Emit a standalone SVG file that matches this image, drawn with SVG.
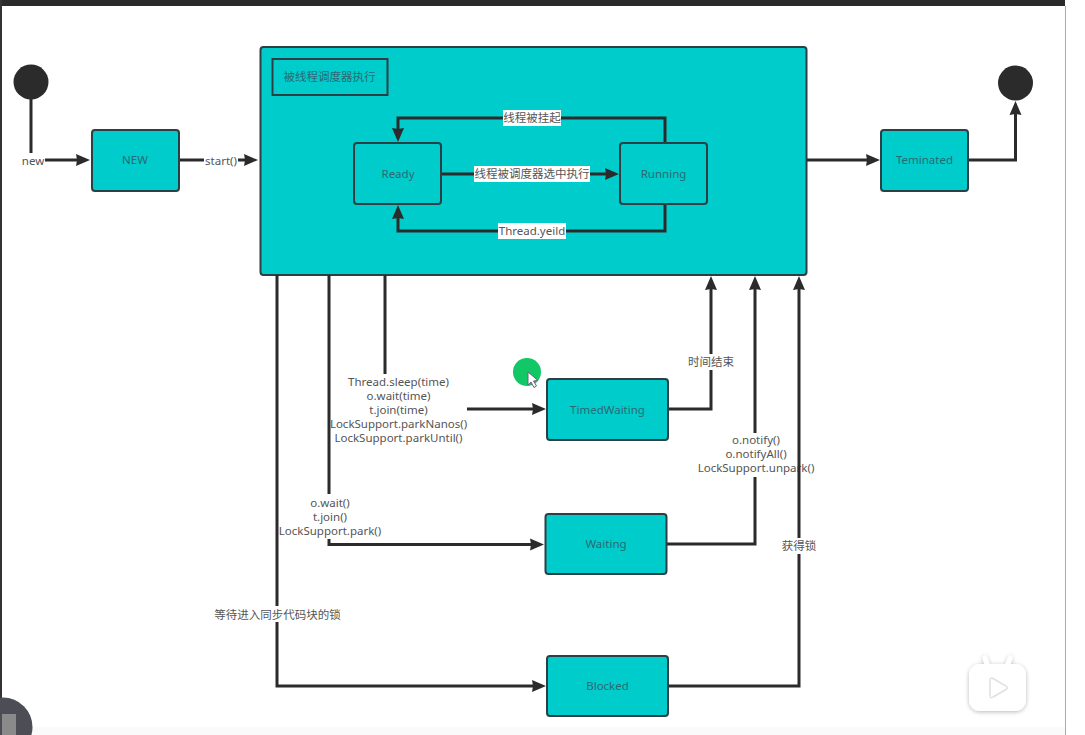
<svg xmlns="http://www.w3.org/2000/svg" width="1085" height="735" viewBox="0 0 1085 735">
<style>
.n{fill:#00cccc;stroke:#2b3f45;stroke-width:2}
.c{fill:none;stroke:#2b2b2b;stroke-width:3;marker-end:url(#a)}
text{font-family:"Noto Sans","Noto Sans CJK SC",sans-serif;font-size:11.500px;text-anchor:middle}
.t{fill:#2b6a72}
.l{fill:#555}
.bg{fill:#fff}
</style>
<defs>
<marker id="a" markerUnits="userSpaceOnUse" markerWidth="15" markerHeight="13" refX="6" refY="6.500" orient="auto"><path d="M0 .5L14 6.500L0 12.500L1 6.500z" fill="#2b2b2b"/></marker>
<filter id="s" x="-30%" y="-30%" width="160%" height="160%"><feDropShadow dx="0" dy="1" stdDeviation="2" flood-color="#000" flood-opacity=".28"/></filter>
</defs>
<rect width="1085" height="735" fill="#fff"/>
<rect x="0" y="727" width="1065" height="8" fill="#fafafa"/>
<rect width="1065" height="6" fill="#2a2a2a"/>
<rect width="2" height="735" fill="#333"/>
<rect x="1065" y="6" width="1" height="729" fill="#aaa"/>
<g id="node-scheduler"><rect class="n" x="260.500" y="47" width="546" height="228" rx="3"/></g>
<g id="connectors">
<path class="c" d="M31 99V160H82"/>
<rect class="bg" x="21" y="153" width="24" height="15"/><text class="l" x="33" y="165">new</text>
<path class="c" d="M179 160H250"/>
<rect class="bg" x="204" y="153" width="34" height="15"/><text class="l" x="221" y="165">start()</text>
<path class="c" d="M807 160H872"/>
<path class="c" d="M968 160H1015.500V109"/>
<path class="c" d="M665 143V118H398V134"/>
<rect class="bg" x="503" y="110" width="58" height="16"/><text class="l" x="532" y="122">线程被挂起</text>
<path class="c" d="M441 174H611"/>
<rect class="bg" x="474" y="166" width="116" height="16"/><text class="l" x="532" y="178">线程被调度器选中执行</text>
<path class="c" d="M665 204V231H398V213"/>
<rect class="bg" x="498" y="223" width="68" height="16"/><text class="l" x="532" y="235">Thread.yeild</text>
<path class="c" d="M385 275V409H538"/>
<path class="c" d="M329 275V544.500H536"/>
<path class="c" d="M277 275V686H538"/>
<rect class="bg" x="331" y="374" width="136" height="72"/>
<text class="l" x="398.500" y="386">Thread.sleep(time)</text>
<text class="l" x="398.500" y="400">o.wait(time)</text>
<text class="l" x="398.500" y="414">t.join(time)</text>
<text class="l" x="398.500" y="428">LockSupport.parkNanos()</text>
<text class="l" x="398.500" y="442">LockSupport.parkUntil()</text>
<rect class="bg" x="280" y="494" width="102" height="45"/>
<text class="l" x="330" y="507">o.wait()</text>
<text class="l" x="330" y="521">t.join()</text>
<text class="l" x="330" y="535">LockSupport.park()</text>
<rect class="bg" x="215" y="606" width="126" height="16"/>
<text class="l" x="277.500" y="619">等待进入同步代码块的锁</text>
<path class="c" d="M668 409H711V284"/>
<rect class="bg" x="688" y="354" width="46" height="16"/>
<text class="l" x="711" y="366">时间结束</text>
<path class="c" d="M666 544H755V284"/>
<rect class="bg" x="698" y="433" width="117" height="44"/>
<text class="l" x="756" y="444">o.notify()</text>
<text class="l" x="756" y="458">o.notifyAll()</text>
<text class="l" x="756" y="472">LockSupport.unpark()</text>
<path class="c" d="M668 686H799V284"/>
<rect class="bg" x="781" y="538" width="36" height="16"/>
<text class="l" x="799" y="550">获得锁</text>
</g>
<g id="node-start"><circle cx="31" cy="82" r="17.500" fill="#2b2b2b"/></g>
<g id="node-new"><rect class="n" x="92" y="130" width="87" height="61" rx="3"/><text class="t" x="135" y="164">NEW</text></g>
<g id="node-title"><rect x="272.500" y="59" width="115" height="36" fill="#00cccc" stroke="#2b3f45" stroke-width="2"/><text class="t" x="329.500" y="81">被线程调度器执行</text></g>
<g id="node-ready"><rect class="n" x="354" y="143" width="87" height="61" rx="3"/><text class="t" x="398" y="178">Ready</text></g>
<g id="node-running"><rect class="n" x="620" y="143" width="87" height="61" rx="3"/><text class="t" x="663.500" y="178">Running</text></g>
<g id="node-terminated"><rect class="n" x="881" y="130" width="87" height="61" rx="3"/><text class="t" x="924.500" y="164">Teminated</text></g>
<g id="node-end"><circle cx="1015.500" cy="83" r="17.500" fill="#2b2b2b"/></g>
<g id="node-timed"><rect class="n" x="547" y="379" width="121" height="61" rx="3"/><text class="t" x="607.500" y="414">TimedWaiting</text></g>
<g id="node-waiting"><rect class="n" x="545.500" y="514" width="121" height="60" rx="3"/><text class="t" x="606" y="548">Waiting</text></g>
<g id="node-blocked"><rect class="n" x="547" y="656" width="121" height="60" rx="3"/><text class="t" x="607.500" y="690">Blocked</text></g>
<circle cx="527" cy="372" r="14" fill="#12c866"/>
<path d="M528 372V385L531 382L534 387.500L536.500 386L533.500 381L538 380.500z" fill="#fff" stroke="#667" stroke-width="1"/>
<circle cx="3" cy="727" r="29.500" fill="#4d4d55"/>
<rect x="2" y="714" width="14" height="21" fill="#8a8a8a"/>
<g filter="url(#s)" fill="#fff">
<rect x="969" y="664" width="57" height="47" rx="11"/>
<path d="M987 664L985 658M1008 664L1010 658" stroke="#fff" stroke-width="5" stroke-linecap="round"/>
</g>
<path d="M990 680.500Q990 677 993 678.500L1006 686Q1008.500 688 1006 689.500L993 697Q990 699 990 695z" fill="#fff" stroke="#e0e0e0" stroke-width="1.500"/>
</svg>
